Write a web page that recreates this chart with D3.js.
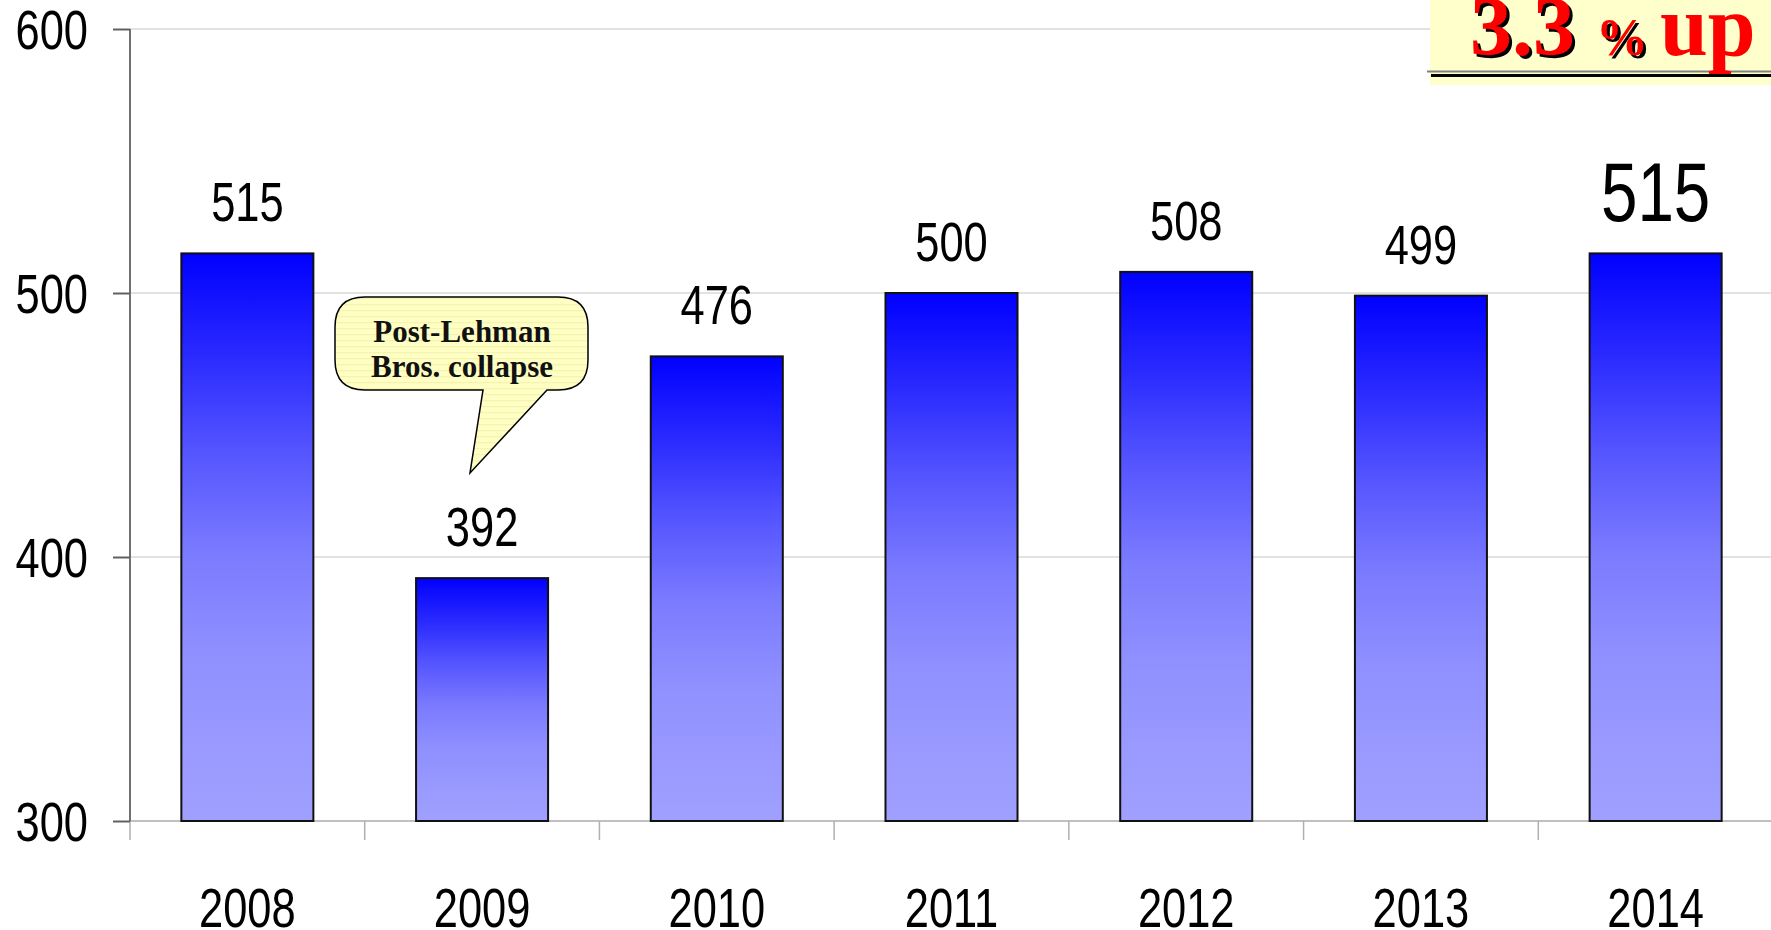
<!DOCTYPE html>
<html>
<head>
<meta charset="utf-8">
<script src="https://cdn.jsdelivr.net/npm/d3@7/dist/d3.min.js"></script>
<style>
  html, body { margin: 0; padding: 0; background: #fff; }
  svg { display: block; }
  .num { font-family: "Liberation Sans", Arial, sans-serif; }
  .serif { font-family: "Liberation Serif", "Times New Roman", serif; font-weight: bold; }
</style>
</head>
<body>
<svg id="chart" width="1771" height="930"></svg>
<script>
// ---- data ----
const years = ["2008", "2009", "2010", "2011", "2012", "2013", "2014"];
const values = [515, 392, 476, 500, 508, 499, 515];
const yTicks = [300, 400, 500, 600];
const calloutLines = ["Post-Lehman", "Bros. collapse"];
const badgeParts = ["3.3", "%", "up"];

// ---- layout ----
const W = 1771, H = 930;
const plotL = 130, plotR = 1773, plotT = 29, plotB = 821;
const SX = 0.79; // horizontal condensing of numeric labels
const svg = d3.select("#chart");

const x = d3.scaleBand().domain(years).range([plotL, plotR])
  .paddingInner(0.4375).paddingOuter(0.21875);
const y = d3.scaleLinear().domain([300, 600]).range([plotB, plotT]);

// condensed number text helper
function numText(g, px, py, size, anchor, txt) {
  return g.append("text").attr("class", "num")
    .attr("transform", `translate(${px},${py}) scale(${SX},1)`)
    .attr("text-anchor", anchor).attr("font-size", size).attr("fill", "#000").text(txt);
}

// gradient
const defs = svg.append("defs");
const grad = defs.append("linearGradient").attr("id", "barGrad")
  .attr("x1", 0).attr("y1", 0).attr("x2", 0).attr("y2", 1);
[[0, "#0000FF"], [0.18, "#2A2AFF"], [0.35, "#5555FF"], [0.53, "#7B7BFF"],
 [0.70, "#8F8FFF"], [0.88, "#9A9AFF"], [1, "#A0A0FF"]].forEach(([o, c]) =>
  grad.append("stop").attr("offset", o).attr("stop-color", c));

const pat = defs.append("pattern").attr("id", "stripe").attr("patternUnits", "userSpaceOnUse")
  .attr("width", 8).attr("height", 6);
pat.append("rect").attr("width", 8).attr("height", 6).attr("fill", "#FFFFC4");
pat.append("rect").attr("y", 4).attr("width", 8).attr("height", 1.2).attr("fill", "#F4F4B0");

// gridlines
svg.append("g").selectAll("line").data(yTicks.filter(t => t > 300)).join("line")
  .attr("x1", plotL).attr("x2", W).attr("y1", d => y(d)).attr("y2", d => y(d))
  .attr("stroke", "#d9d9d9").attr("stroke-width", 1.5);

// x axis baseline
svg.append("line").attr("x1", plotL).attr("x2", W).attr("y1", plotB).attr("y2", plotB)
  .attr("stroke", "#c0c0c0").attr("stroke-width", 2);

// x category separator ticks
const sepTicks = years.map(d => x(d) - (x.step() - x.bandwidth()) / 2);
svg.append("g").selectAll("line").data(sepTicks).join("line")
  .attr("x1", d => d).attr("x2", d => d).attr("y1", plotB).attr("y2", plotB + 19)
  .attr("stroke", "#b0b0b0").attr("stroke-width", 1.5);

// y axis
const yAxis = d3.axisLeft(y).tickValues(yTicks).tickSize(17).tickPadding(25).tickFormat(d3.format("d"));
const gy = svg.append("g").attr("transform", `translate(${plotL},0)`).call(yAxis);
gy.select(".domain").attr("stroke", "#707070").attr("stroke-width", 2).attr("d", `M0,${plotT}V${plotB}`);
gy.selectAll(".tick line").attr("stroke", "#606060").attr("stroke-width", 2);
gy.selectAll(".tick text").attr("class", "num").attr("font-size", 55).attr("fill", "#000")
  .attr("dy", "0.36em").attr("x", -42 / SX).attr("transform", `scale(${SX},1)`);

// bars
svg.append("g").selectAll("rect").data(values).join("rect")
  .attr("x", (d, i) => x(years[i])).attr("width", x.bandwidth())
  .attr("y", d => y(d)).attr("height", d => plotB - y(d))
  .attr("fill", "url(#barGrad)").attr("stroke", "#111").attr("stroke-width", 2);

// value labels
const gv = svg.append("g");
values.forEach((d, i) => {
  const last = i === values.length - 1;
  numText(gv, x(years[i]) + x.bandwidth() / 2, y(d) - (last ? 32 : 32), last ? 83 : 55, "middle", d);
});

// x labels
const gx = svg.append("g");
years.forEach(d => numText(gx, x(d) + x.bandwidth() / 2, 927, 55, "middle", d));

// callout
const cg = svg.append("g");
const bx0 = 335, bx1 = 588, by0 = 297, by1 = 390, r = 30;
const tailA = 483, tailB = 547, tipX = 470, tipY = 473;
const p = d3.path();
p.moveTo(bx0 + r, by0);
p.lineTo(bx1 - r, by0);
p.quadraticCurveTo(bx1, by0, bx1, by0 + r);
p.lineTo(bx1, by1 - r);
p.quadraticCurveTo(bx1, by1, bx1 - r, by1);
p.lineTo(tailB, by1);
p.lineTo(tipX, tipY);
p.lineTo(tailA, by1);
p.lineTo(bx0 + r, by1);
p.quadraticCurveTo(bx0, by1, bx0, by1 - r);
p.lineTo(bx0, by0 + r);
p.quadraticCurveTo(bx0, by0, bx0 + r, by0);
p.closePath();
cg.append("path").attr("d", p.toString()).attr("fill", "url(#stripe)")
  .attr("stroke", "#000").attr("stroke-width", 1.5);
cg.selectAll("text").data(calloutLines).join("text")
  .attr("class", "serif").attr("x", 462).attr("y", (d, i) => 342 + i * 35)
  .attr("text-anchor", "middle").attr("font-size", 31).attr("fill", "#111").text(d => d);

// badge
const bg = svg.append("g");
bg.append("rect").attr("x", 1430).attr("y", 0).attr("width", W - 1430).attr("height", 85).attr("fill", "#FFFFCC");
bg.append("line").attr("x1", 1427).attr("x2", W).attr("y1", 71.5).attr("y2", 71.5).attr("stroke", "#808080").attr("stroke-width", 2);
bg.append("line").attr("x1", 1431).attr("x2", W).attr("y1", 75.5).attr("y2", 75.5).attr("stroke", "#000").attr("stroke-width", 3);
const badgeX = [1470, 1596, 1660];
const badgeSize = [84, 52, 86];
const badgeShadow = [true, true, false];
badgeParts.forEach((t, i) => {
  if (badgeShadow[i]) {
    bg.append("text").attr("class", "serif").attr("x", badgeX[i] + 3).attr("y", 58)
      .attr("font-size", badgeSize[i]).attr("fill", "#000").text(t);
  }
  bg.append("text").attr("class", "serif").attr("x", badgeX[i]).attr("y", 55)
    .attr("font-size", badgeSize[i]).attr("fill", "#FF0000").text(t);
});
</script>
</body>
</html>
